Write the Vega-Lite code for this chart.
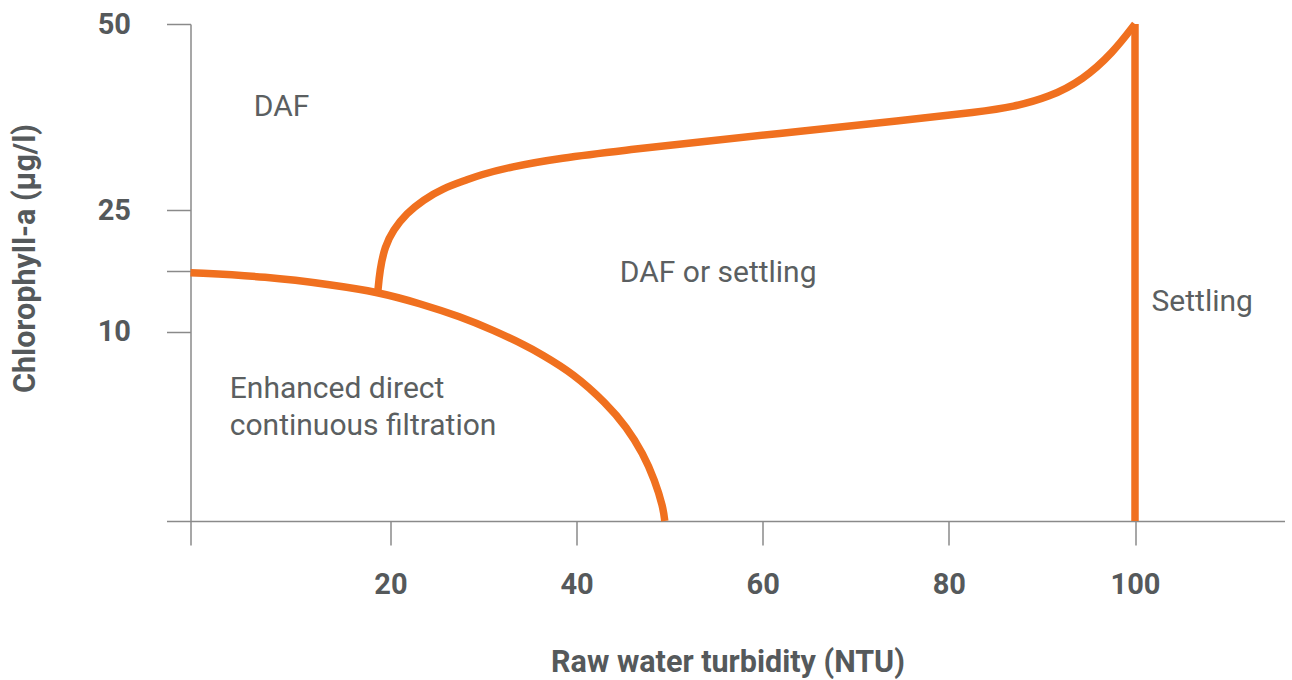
{
  "$schema": "https://vega.github.io/schema/vega-lite/v6.json",
  "width": 1094,
  "height": 497,
  "autosize": "none",
  "padding": {"left": 190.5, "top": 24, "right": 7.5, "bottom": 159},
  "background": "white",
  "config": {
    "view": {"stroke": null},
    "axis": {"grid": false, "labelFlush": false, "labelOverlap": false, "domainColor": "#8a8a8a", "tickColor": "#8a8a8a", "domainWidth": 1.5, "tickWidth": 1.5, "labelFont": "Roboto", "labelFontWeight": "bold", "labelFontSize": 29, "labelColor": "#55595b", "titleFont": "Roboto", "titleFontWeight": "bold", "titleFontSize": 30.5, "titleColor": "#55595b", "tickSize": 24}
  },
  "datasets": {
    "curves": [
      {"curve": "lower", "turbidity": 0, "chl": 17.27},
      {"curve": "lower", "turbidity": 7.63, "chl": 16.8},
      {"curve": "lower", "turbidity": 14.23, "chl": 15.76},
      {"curve": "lower", "turbidity": 18.73, "chl": 14.89},
      {"curve": "lower", "turbidity": 23.15, "chl": 13.48},
      {"curve": "lower", "turbidity": 27.45, "chl": 11.87},
      {"curve": "lower", "turbidity": 31.0, "chl": 10.21},
      {"curve": "lower", "turbidity": 34.65, "chl": 9.24},
      {"curve": "lower", "turbidity": 36.04, "chl": 8.86},
      {"curve": "lower", "turbidity": 39.62, "chl": 7.81},
      {"curve": "lower", "turbidity": 43.21, "chl": 6.21},
      {"curve": "lower", "turbidity": 45.36, "chl": 4.97},
      {"curve": "lower", "turbidity": 47.14, "chl": 3.57},
      {"curve": "lower", "turbidity": 48.4, "chl": 2.15},
      {"curve": "lower", "turbidity": 49.29, "chl": 0.74},
      {"curve": "lower", "turbidity": 49.47, "chl": 0},
      {"curve": "upper", "turbidity": 18.73, "chl": 14.89},
      {"curve": "upper", "turbidity": 18.93, "chl": 17.6},
      {"curve": "upper", "turbidity": 19.43, "chl": 20.48},
      {"curve": "upper", "turbidity": 20.28, "chl": 22.53},
      {"curve": "upper", "turbidity": 21.72, "chl": 24.59},
      {"curve": "upper", "turbidity": 23.5, "chl": 26.34},
      {"curve": "upper", "turbidity": 25.65, "chl": 27.92},
      {"curve": "upper", "turbidity": 28.17, "chl": 29.03},
      {"curve": "upper", "turbidity": 29.6, "chl": 29.7},
      {"curve": "upper", "turbidity": 32.82, "chl": 30.78},
      {"curve": "upper", "turbidity": 38.19, "chl": 31.99},
      {"curve": "upper", "turbidity": 45.39, "chl": 33.06},
      {"curve": "upper", "turbidity": 52.16, "chl": 34.01},
      {"curve": "upper", "turbidity": 63.98, "chl": 35.58},
      {"curve": "upper", "turbidity": 74.73, "chl": 37.0},
      {"curve": "upper", "turbidity": 83.35, "chl": 38.2},
      {"curve": "upper", "turbidity": 86.87, "chl": 38.84},
      {"curve": "upper", "turbidity": 90.85, "chl": 40.19},
      {"curve": "upper", "turbidity": 94.39, "chl": 42.47},
      {"curve": "upper", "turbidity": 97.61, "chl": 46.1},
      {"curve": "upper", "turbidity": 100, "chl": 50}
    ],
    "boundary": [
      {"turbidity": 100, "chl": 0, "chl2": 50}
    ],
    "regions": [
      {"label": "DAF", "turbidity": 6.33, "chl": 37.67},
      {"label": "DAF or settling", "turbidity": 44.64, "chl": 16.09},
      {"label": "Settling", "turbidity": 101.77, "chl": 12.59},
      {"label": "Enhanced direct", "turbidity": 3.93, "chl": 6.51},
      {"label": "continuous filtration", "turbidity": 3.93, "chl": 4.52}
    ]
  },
  "layer": [
    {
      "data": {"name": "curves"},
      "mark": {"type": "line", "interpolate": "basis", "color": "#F0701F", "strokeWidth": 7.5, "strokeCap": "butt"},
      "encoding": {
        "x": {"field": "turbidity", "type": "quantitative",
          "scale": {"domain": [0, 20, 100, 116], "range": [0, 200, 944.5, 1094], "nice": false, "zero": false},
          "axis": {"values": [0, 20, 40, 60, 80, 100], "labelExpr": "datum.value == 0 ? '' : datum.label", "labelPadding": 25,
            "title": "Raw water turbidity (NTU)", "titleX": 537, "titleY": 150, "titleBaseline": "alphabetic", "titleAlign": "center", "titleAnchor": null}},
        "y": {"field": "chl", "type": "quantitative",
          "scale": {"domain": [0, 10, 25, 50], "range": [497, 307.7, 186, 0], "nice": false, "zero": false},
          "axis": {"values": [0, 10, 17.5, 25, 50], "labelExpr": "(datum.value == 0 || datum.value == 17.5) ? '' : datum.label", "labelPadding": 36,
            "title": "Chlorophyll-a (µg/l)", "titleX": -156, "titleY": 234, "titleAngle": 270, "titleBaseline": "alphabetic", "titleAlign": "center", "titleAnchor": null}},
        "detail": {"field": "curve"}
      }
    },
    {
      "data": {"name": "boundary"},
      "mark": {"type": "rule", "color": "#F0701F", "strokeWidth": 7.5, "strokeCap": "butt"},
      "encoding": {
        "x": {"field": "turbidity", "type": "quantitative", "scale": {"domain": [0, 20, 100, 116], "range": [0, 200, 944.5, 1094], "nice": false, "zero": false}},
        "y": {"field": "chl", "type": "quantitative", "scale": {"domain": [0, 10, 25, 50], "range": [497, 307.7, 186, 0], "nice": false, "zero": false}},
        "y2": {"field": "chl2"}
      }
    },
    {
      "data": {"name": "regions"},
      "mark": {"type": "text", "font": "Roboto", "fontSize": 30, "color": "#5b5f61", "align": "left", "baseline": "alphabetic"},
      "encoding": {
        "x": {"field": "turbidity", "type": "quantitative", "scale": {"domain": [0, 20, 100, 116], "range": [0, 200, 944.5, 1094], "nice": false, "zero": false}},
        "y": {"field": "chl", "type": "quantitative", "scale": {"domain": [0, 10, 25, 50], "range": [497, 307.7, 186, 0], "nice": false, "zero": false}},
        "text": {"field": "label"}
      }
    }
  ]
}
